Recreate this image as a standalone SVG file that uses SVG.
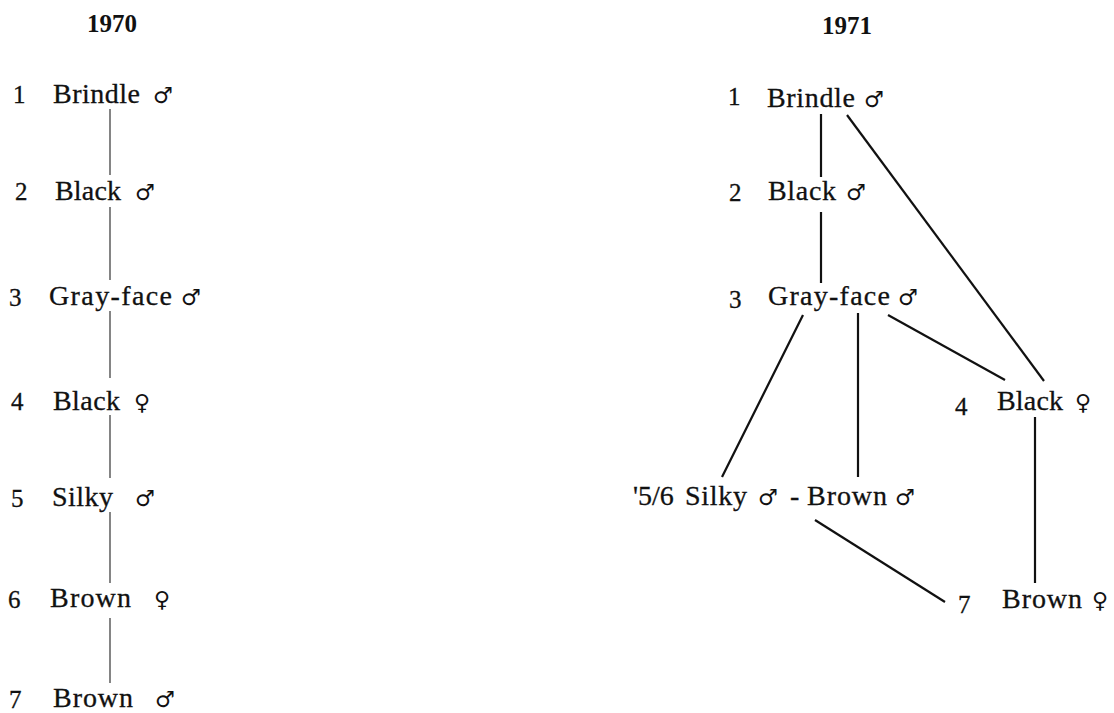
<svg xmlns="http://www.w3.org/2000/svg" width="1114" height="713" viewBox="0 0 1114 713">
<style>
.t{font-family:"Liberation Serif","Times New Roman",serif;font-size:28px;fill:#111;stroke:#111;stroke-width:0.3}
.n{font-family:"Liberation Serif","Times New Roman",serif;font-size:25px;fill:#111;stroke:#111;stroke-width:0.3}
.h{font-family:"Liberation Serif","Times New Roman",serif;font-size:25px;font-weight:bold;fill:#111;text-anchor:middle}
.s{font-family:"DejaVu Sans",sans-serif;font-size:22px;fill:#111}
.thin{stroke:#333;stroke-width:1.2;fill:none}
.thick{stroke:#111;stroke-width:2.2;fill:none}
</style>
<rect width="1114" height="713" fill="#fff"/>
<text class="h" x="112" y="32">1970</text>
<text class="h" x="847" y="34">1971</text>
<g id="connectors">
<line class="thin" x1="110" y1="109" x2="110" y2="175"/>
<line class="thin" x1="110" y1="207" x2="110" y2="280"/>
<line class="thin" x1="110" y1="311" x2="110" y2="378"/>
<line class="thin" x1="110" y1="415" x2="110" y2="478"/>
<line class="thin" x1="110" y1="512" x2="110" y2="583"/>
<line class="thin" x1="110" y1="618" x2="110" y2="683"/>
<line class="thick" x1="821" y1="114" x2="821" y2="177"/>
<line class="thick" x1="847" y1="115" x2="1044" y2="381"/>
<line class="thick" x1="821" y1="212" x2="821" y2="283"/>
<line class="thick" x1="803" y1="315" x2="722" y2="477"/>
<line class="thick" x1="858" y1="313" x2="858" y2="477"/>
<line class="thick" x1="888" y1="315" x2="1005" y2="380"/>
<line class="thick" x1="1035" y1="417" x2="1035" y2="583"/>
<line class="thick" x1="815" y1="520" x2="945" y2="602"/>
</g>
<g id="a1"><text class="n" x="13" y="103">1</text><text class="t" x="53" y="103" textLength="87">Brindle</text><text class="s" x="153" y="103">♂</text></g>
<g id="a2"><text class="n" x="15" y="200">2</text><text class="t" x="55" y="200" textLength="66">Black</text><text class="s" x="135" y="200">♂</text></g>
<g id="a3"><text class="n" x="9" y="306">3</text><text class="t" x="49" y="305" textLength="123">Gray-face</text><text class="s" x="181" y="305">♂</text></g>
<g id="a4"><text class="n" x="11" y="410">4</text><text class="t" x="53" y="410" textLength="67">Black</text><text class="s" x="134" y="410">♀</text></g>
<g id="a5"><text class="n" x="11" y="507">5</text><text class="t" x="52" y="506" textLength="61">Silky</text><text class="s" x="135" y="506">♂</text></g>
<g id="a6"><text class="n" x="8" y="608">6</text><text class="t" x="50" y="607" textLength="81">Brown</text><text class="s" x="154" y="607">♀</text></g>
<g id="a7"><text class="n" x="9" y="708">7</text><text class="t" x="53" y="707" textLength="80">Brown</text><text class="s" x="155" y="707">♂</text></g>
<g id="b1"><text class="n" x="728" y="105">1</text><text class="t" x="767" y="107" textLength="88">Brindle</text><text class="s" x="864" y="107">♂</text></g>
<g id="b2"><text class="n" x="729" y="201">2</text><text class="t" x="768" y="200" textLength="68">Black</text><text class="s" x="846" y="200">♂</text></g>
<g id="b3"><text class="n" x="729" y="308">3</text><text class="t" x="768" y="305" textLength="122">Gray-face</text><text class="s" x="898" y="305">♂</text></g>
<g id="b4"><text class="n" x="955" y="415">4</text><text class="t" x="997" y="410" textLength="66">Black</text><text class="s" x="1075" y="410">♀</text></g>
<g id="b56"><text class="t" x="633" y="505">'5/6</text><text class="t" x="685" y="505" textLength="62">Silky</text><text class="s" x="758" y="505">♂</text><text class="t" x="790" y="505">-</text><text class="t" x="807" y="505" textLength="80">Brown</text><text class="s" x="895" y="505">♂</text></g>
<g id="b7"><text class="n" x="958" y="613">7</text><text class="t" x="1002" y="608" textLength="80">Brown</text><text class="s" x="1092" y="608">♀</text></g>
</svg>
